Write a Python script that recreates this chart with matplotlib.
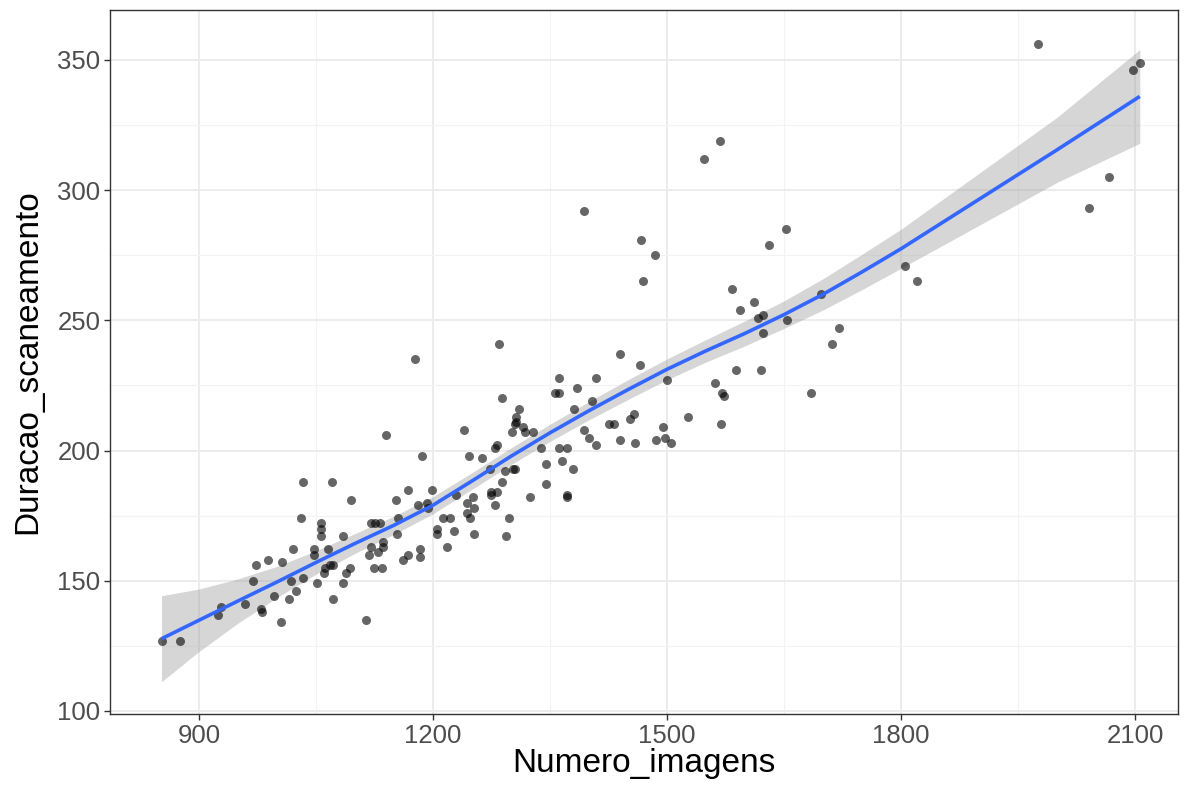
import matplotlib
matplotlib.use("Agg")
import matplotlib.pyplot as plt
from matplotlib import font_manager
from matplotlib.ticker import MultipleLocator
import numpy as np

# scanned images vs scan duration
numero_imagens = [
    853, 876, 924, 928, 959, 969, 973, 979, 981, 989, 996, 1005, 1007, 1015,
    1018, 1021, 1024, 1031, 1033, 1033, 1047, 1047, 1051, 1056, 1056, 1057,
    1060, 1062, 1065, 1068, 1072, 1071, 1072, 1085, 1085, 1088, 1093, 1095,
    1114, 1118, 1120, 1120, 1125, 1126, 1130, 1132, 1135, 1136, 1136, 1140,
    1153, 1154, 1155, 1162, 1168, 1168, 1177, 1181, 1183, 1183, 1186, 1192,
    1194, 1199, 1205, 1205, 1213, 1218, 1222, 1227, 1230, 1240, 1243, 1244,
    1246, 1247, 1251, 1252, 1253, 1263, 1273, 1275, 1275, 1279, 1280, 1282,
    1282, 1285, 1289, 1289, 1292, 1293, 1298, 1301, 1303, 1305, 1305, 1307,
    1307, 1310, 1315, 1318, 1325, 1328, 1338, 1345, 1345, 1356, 1361, 1361,
    1361, 1366, 1372, 1372, 1372, 1379, 1381, 1385, 1394, 1394, 1400, 1404,
    1409, 1409, 1425, 1432, 1440, 1440, 1453, 1458, 1459, 1465, 1467, 1469,
    1484, 1486, 1495, 1498, 1500, 1505, 1527, 1547, 1561, 1568, 1569, 1571,
    1573, 1583, 1589, 1594, 1612, 1616, 1620, 1623, 1623, 1631, 1653, 1654,
    1684, 1698, 1711, 1721, 1805, 1820, 1976, 2041, 2067, 2097, 2106,
]
duracao_scaneamento = [
    127, 127, 137, 140, 141, 150, 156, 139, 138, 158, 144, 134, 157, 143,
    150, 162, 146, 174, 188, 151, 162, 160, 149, 172, 170, 167,
    153, 155, 162, 156, 143, 188, 156, 167, 149, 153, 155, 181,
    135, 160, 172, 163, 155, 172, 161, 172, 155, 165, 163, 206,
    181, 168, 174, 158, 160, 185, 235, 179, 162, 159, 198, 180,
    178, 185, 170, 168, 174, 163, 174, 169, 183, 208, 180, 176,
    198, 174, 182, 168, 178, 197, 193, 184, 183, 179, 201, 184,
    202, 241, 220, 188, 192, 167, 174, 207, 193, 193, 210, 213,
    211, 216, 209, 207, 182, 207, 201, 195, 187, 222, 228, 222,
    201, 196, 201, 183, 182, 193, 216, 224, 292, 208, 205, 219,
    228, 202, 210, 210, 204, 237, 212, 214, 203, 233, 281, 265,
    275, 204, 209, 205, 227, 203, 213, 312, 226, 319, 210, 222,
    221, 262, 231, 254, 257, 251, 231, 252, 245, 279, 285, 250,
    222, 260, 241, 247, 271, 265, 356, 293, 305, 346, 349,
]

# loess fit and its standard-error band
fit_x = [852, 900, 950, 1000, 1050, 1100, 1150, 1200, 1250, 1300, 1350, 1400,
         1450, 1500, 1550, 1600, 1650, 1700, 1750, 1800, 1900, 2000, 2106]
fit_y = [127.7, 134.8, 142.2, 149.5, 157.0, 164.3, 171.3, 179.0, 188.3, 197.8,
         206.8, 215.3, 223.4, 231.2, 238.3, 245.0, 252.2, 260.0, 268.6, 277.5,
         296.5, 315.5, 336.0]
fit_se = [16.5, 12.0, 8.5, 6.0, 4.5, 3.8, 3.5, 3.3, 3.2, 3.2, 3.3, 3.5,
          3.8, 4.0, 4.3, 4.8, 5.3, 6.0, 6.8, 7.5, 10.0, 12.5, 18.0]

x_ticks = [900, 1200, 1500, 1800, 2100]
y_ticks = [100, 150, 200, 250, 300, 350]


def pick_font():
    for name in ["Liberation Sans Narrow", "Liberation Sans", "DejaVu Sans"]:
        try:
            font_manager.findfont(name, fallback_to_default=False)
            return name
        except Exception:
            continue
    return "DejaVu Sans"


FONT = pick_font()
narrow = "Narrow" in FONT
plt.rcParams["font.family"] = [FONT, "DejaVu Sans"]

fig = plt.figure(figsize=(11.89, 7.89), dpi=100)
ax = fig.add_axes([110 / 1189, 1 - 714 / 789, (1178 - 110) / 1189, (714 - 10) / 789])

fx = np.array(fit_x)
fy = np.array(fit_y)
fse = np.array(fit_se)
ax.fill_between(fx, fy - fse, fy + fse, color="#999999", alpha=0.4, lw=0, zorder=2)
ax.scatter(numero_imagens, duracao_scaneamento, s=42, color="black", alpha=0.6,
           lw=0, zorder=3)
ax.plot(fx, fy, color="#3366FF", lw=2.6, zorder=4, solid_capstyle="butt",
        solid_joinstyle="round")

ax.set_xlim(786, 2155)
ax.set_ylim(98.8, 369.2)
ax.set_xticks(x_ticks)
ax.set_yticks(y_ticks)
ax.xaxis.set_minor_locator(MultipleLocator(150))
ax.yaxis.set_minor_locator(MultipleLocator(25))
ax.grid(which="major", color="#EBEBEB", lw=1.3, zorder=0)
ax.grid(which="minor", color="#F3F3F3", lw=0.8, zorder=0)
ax.set_axisbelow(True)
ax.tick_params(which="minor", length=0)

tick_size = 22 if narrow else 18.5
title_size = 28 if narrow else 24
ax.tick_params(which="major", length=4, width=1, color="#333333",
               labelcolor="#4D4D4D", labelsize=tick_size, pad=3)
for s in ax.spines.values():
    s.set_color("#333333")
    s.set_linewidth(1)

ax.set_xlabel("Numero_imagens", fontsize=title_size, color="black", labelpad=0)
ax.set_ylabel("Duracao_scaneamento", fontsize=title_size, color="black", labelpad=10)

fig.savefig("out.png", dpi=100)
